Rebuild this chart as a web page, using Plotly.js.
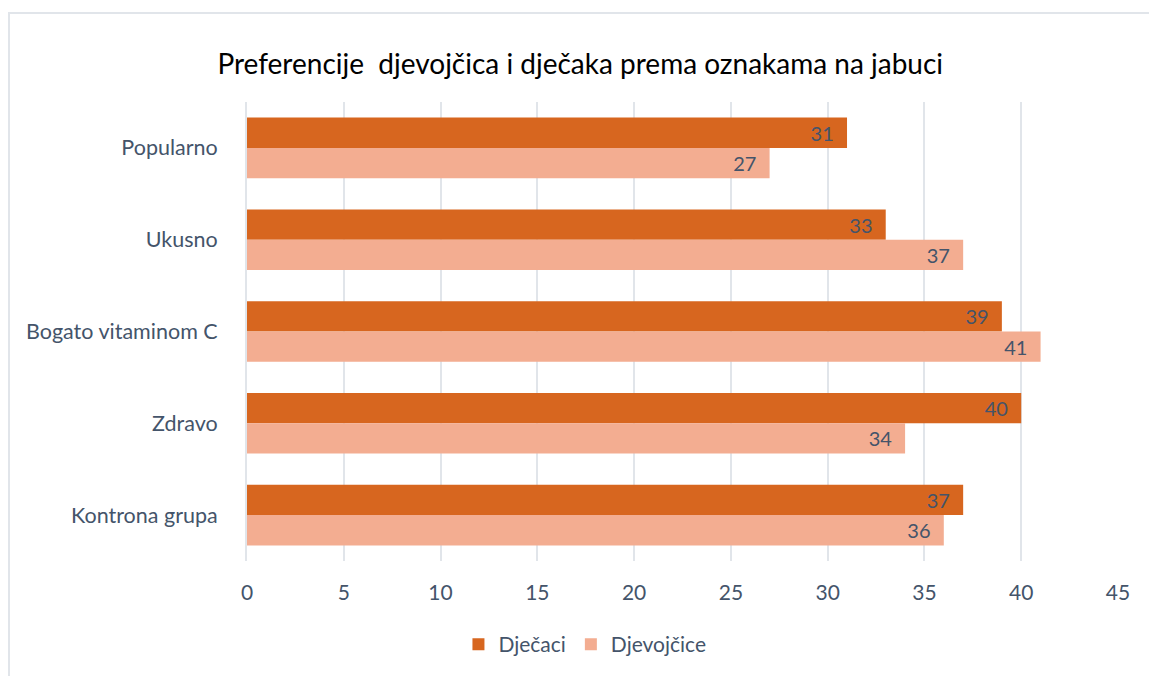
<!DOCTYPE html>
<html>
<head>
<meta charset="utf-8">
<script src="https://cdn.plot.ly/plotly-3.0.1.min.js"></script>
<style>
html,body{margin:0;padding:0;overflow:hidden;background:#fff;}
#frame{position:absolute;left:8px;top:12px;width:1200px;height:700px;border:2px solid #E1E5EA;box-sizing:border-box;}
#chart{position:absolute;left:0;top:0;width:1149px;height:676px;}
</style>
</head>
<body>
<div id="frame"></div>
<div id="chart"></div>
<script>
var categories = ["Popularno", "Ukusno", "Bogato vitaminom C", "Zdravo", "Kontrona grupa"];
var djecaci = [31, 33, 39, 40, 37];
var djevojcice = [27, 37, 41, 34, 36];
var seriesNames = ["Dječaci", "Djevojčice"];
var xTicks = [0, 5, 10, 15, 20, 25, 30, 35, 40, 45];

var FONT = "Lato, 'Open Sans', sans-serif";
var labelFont = {family: FONT, size: 20, color: "#44546A"};

var traces = [
  {type: "bar", orientation: "h", name: seriesNames[0], y: categories, x: djecaci,
   marker: {color: "#D7661F", line: {width: 0}},
   text: djecaci.map(String), texttemplate: "%{text}\u00a0\u00a0", textposition: "inside", insidetextanchor: "end",
   textfont: labelFont, insidetextfont: labelFont, hoverinfo: "x+name", cliponaxis: false},
  {type: "bar", orientation: "h", name: seriesNames[1], y: categories, x: djevojcice,
   marker: {color: "#F3AD91", line: {width: 0}},
   text: djevojcice.map(String), texttemplate: "%{text}\u00a0\u00a0", textposition: "inside", insidetextanchor: "end",
   textfont: labelFont, insidetextfont: labelFont, hoverinfo: "x+name", cliponaxis: false}
];

var layout = {
  width: 1149, height: 676,
  paper_bgcolor: "rgba(0,0,0,0)", plot_bgcolor: "rgba(0,0,0,0)",
  margin: {l: 247, r: 31, t: 102, b: 114},
  title: {text: "Preferencije  djevojčica i dječaka prema oznakama na jabuci",
          font: {family: FONT, size: 28, color: "#000"}, x: 0.505, xanchor: "center", y: 0.905, yanchor: "middle"},
  barmode: "group", bargap: 0.34, bargroupgap: 0,
  xaxis: {range: [0, 45], tickvals: xTicks, ticktext: xTicks.map(String), showgrid: true,
          gridcolor: "#E1E5EA", gridwidth: 2, zeroline: false, showline: false,
          ticks: "", ticklabelstandoff: 17, tickfont: {family: FONT, size: 21, color: "#44546A"}, fixedrange: true},
  yaxis: {autorange: "reversed", type: "category", showgrid: false, zeroline: false,
          showline: true, linecolor: "#E1E5EA", linewidth: 2, ticks: "", ticklabelstandoff: 23,
          tickfont: {family: FONT, size: 21.5, color: "#44546A"}, fixedrange: true},
  legend: {orientation: "h", x: 0.388, xanchor: "center", y: -0.135, yanchor: "top",
           font: {family: FONT, size: 21, color: "#44546A"}, traceorder: "normal", itemwidth: 30},
  showlegend: true
};

Plotly.newPlot("chart", traces, layout, {displayModeBar: false, staticPlot: true});
</script>
</body>
</html>
